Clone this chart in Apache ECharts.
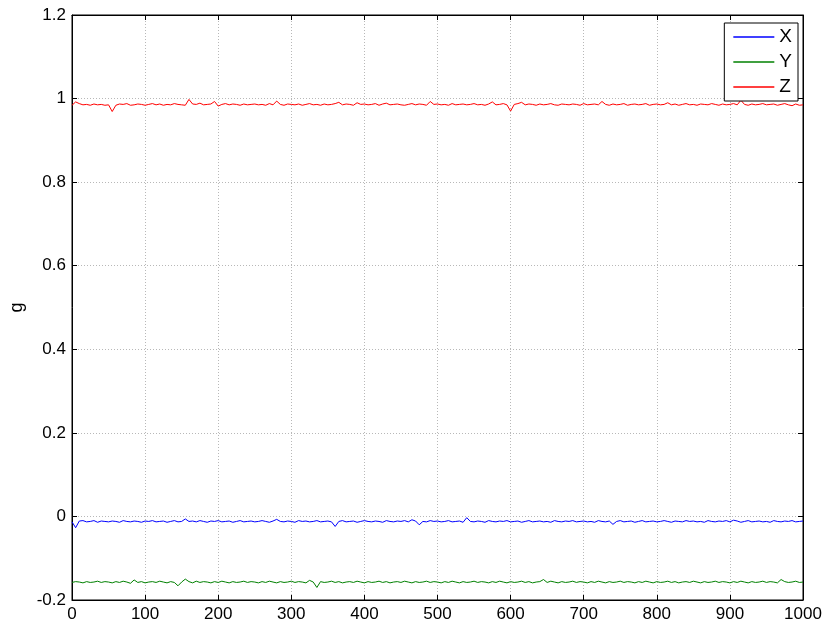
<!DOCTYPE html>
<html>
<head>
<meta charset="utf-8">
<script src="https://cdn.jsdelivr.net/npm/echarts@6/dist/echarts.min.js"></script>
<style>
html,body{margin:0;padding:0;background:#fff;}
#chart{width:830px;height:631px;}
</style>
</head>
<body>
<div id="chart"></div>
<script>
// sample step along x (samples 0..1000 every 5)
const sampleStep = 5;
const seriesNames = ['X', 'Y', 'Z'];
const xTicks = [0,100,200,300,400,500,600,700,800,900,1000];
const yTicks = [-0.2,0,0.2,0.4,0.6,0.8,1,1.2];

const zValues = [
0.984,0.992,0.988,0.985,0.986,0.984,0.987,0.985,0.986,0.984,
0.985,0.969,0.984,0.987,0.986,0.988,0.984,0.985,0.987,0.986,
0.984,0.986,0.988,0.985,0.987,0.984,0.986,0.985,0.988,0.986,
0.985,0.984,0.998,0.987,0.986,0.989,0.985,0.986,0.987,0.993,
0.982,0.986,0.988,0.985,0.987,0.986,0.984,0.987,0.985,0.986,
0.987,0.985,0.986,0.984,0.988,0.985,0.994,0.986,0.984,0.987,
0.986,0.985,0.987,0.984,0.986,0.988,0.985,0.986,0.984,0.987,
0.985,0.986,0.988,0.991,0.985,0.987,0.986,0.984,0.990,0.986,
0.987,0.985,0.986,0.988,0.984,0.987,0.989,0.985,0.986,0.987,
0.985,0.984,0.986,0.988,0.985,0.987,0.986,0.984,0.993,0.986,
0.987,0.985,0.986,0.984,0.988,0.985,0.986,0.987,0.985,0.986,
0.988,0.985,0.986,0.984,0.987,0.992,0.985,0.986,0.988,0.985,
0.970,0.986,0.988,0.991,0.985,0.987,0.986,0.984,0.987,0.985,
0.986,0.988,0.985,0.984,0.987,0.986,0.985,0.987,0.986,0.984,
0.988,0.985,0.986,0.987,0.985,0.993,0.986,0.984,0.987,0.985,
0.986,0.988,0.984,0.986,0.987,0.985,0.986,0.988,0.984,0.986,
0.987,0.985,0.986,0.990,0.985,0.987,0.984,0.986,0.988,0.985,
0.986,0.984,0.987,0.986,0.985,0.988,0.986,0.984,0.987,0.985,
0.986,0.988,0.985,0.996,0.986,0.984,0.987,0.985,0.986,0.988,
0.985,0.986,0.987,0.984,0.986,0.988,0.985,0.983,0.987,0.984,0.985
];

const xValues = [
-0.013,-0.027,-0.011,-0.010,-0.013,-0.012,-0.010,-0.014,-0.011,-0.012,
-0.013,-0.011,-0.012,-0.014,-0.010,-0.012,-0.013,-0.011,-0.012,-0.014,
-0.011,-0.012,-0.010,-0.013,-0.012,-0.011,-0.014,-0.012,-0.010,-0.013,
-0.012,-0.006,-0.012,-0.011,-0.013,-0.010,-0.012,-0.014,-0.011,-0.012,
-0.010,-0.013,-0.012,-0.011,-0.014,-0.012,-0.010,-0.013,-0.012,-0.011,
-0.013,-0.012,-0.010,-0.012,-0.014,-0.011,-0.007,-0.012,-0.013,-0.011,
-0.012,-0.014,-0.010,-0.012,-0.011,-0.013,-0.012,-0.010,-0.013,-0.012,
-0.011,-0.013,-0.024,-0.012,-0.010,-0.013,-0.012,-0.011,-0.014,-0.012,
-0.010,-0.012,-0.013,-0.011,-0.012,-0.014,-0.010,-0.012,-0.013,-0.011,
-0.012,-0.010,-0.013,-0.008,-0.011,-0.020,-0.012,-0.013,-0.010,-0.012,
-0.011,-0.013,-0.012,-0.010,-0.013,-0.012,-0.011,-0.014,-0.003,-0.012,
-0.013,-0.011,-0.012,-0.014,-0.010,-0.012,-0.013,-0.011,-0.012,-0.010,
-0.013,-0.012,-0.011,-0.014,-0.012,-0.010,-0.013,-0.012,-0.011,-0.013,
-0.012,-0.014,-0.010,-0.012,-0.013,-0.011,-0.012,-0.010,-0.013,-0.012,
-0.011,-0.013,-0.012,-0.014,-0.010,-0.012,-0.013,-0.011,-0.019,-0.012,
-0.010,-0.013,-0.012,-0.011,-0.014,-0.012,-0.010,-0.013,-0.012,-0.011,
-0.013,-0.012,-0.010,-0.012,-0.014,-0.011,-0.012,-0.013,-0.010,-0.012,
-0.011,-0.013,-0.012,-0.014,-0.010,-0.012,-0.013,-0.011,-0.012,-0.010,
-0.013,-0.009,-0.011,-0.014,-0.012,-0.010,-0.013,-0.012,-0.011,-0.013,
-0.012,-0.014,-0.010,-0.012,-0.013,-0.011,-0.012,-0.010,-0.013,-0.012,-0.011
];

const yValues = [
-0.158,-0.156,-0.157,-0.159,-0.156,-0.158,-0.157,-0.155,-0.158,-0.156,
-0.157,-0.159,-0.156,-0.158,-0.155,-0.157,-0.160,-0.152,-0.158,-0.156,
-0.159,-0.157,-0.156,-0.158,-0.155,-0.157,-0.159,-0.156,-0.158,-0.166,
-0.157,-0.150,-0.156,-0.159,-0.155,-0.158,-0.156,-0.157,-0.159,-0.156,
-0.158,-0.155,-0.157,-0.159,-0.156,-0.158,-0.157,-0.155,-0.158,-0.156,
-0.157,-0.159,-0.156,-0.158,-0.155,-0.157,-0.159,-0.156,-0.158,-0.157,
-0.155,-0.158,-0.156,-0.157,-0.159,-0.153,-0.157,-0.170,-0.156,-0.158,
-0.157,-0.155,-0.158,-0.156,-0.159,-0.157,-0.156,-0.158,-0.155,-0.157,
-0.159,-0.156,-0.158,-0.157,-0.155,-0.158,-0.156,-0.159,-0.157,-0.156,
-0.158,-0.155,-0.157,-0.159,-0.156,-0.158,-0.157,-0.155,-0.158,-0.156,
-0.157,-0.159,-0.156,-0.158,-0.155,-0.157,-0.159,-0.156,-0.158,-0.157,
-0.155,-0.158,-0.156,-0.157,-0.159,-0.156,-0.158,-0.155,-0.157,-0.159,
-0.156,-0.158,-0.157,-0.155,-0.158,-0.156,-0.159,-0.157,-0.156,-0.151,
-0.158,-0.155,-0.157,-0.159,-0.156,-0.158,-0.157,-0.155,-0.158,-0.156,
-0.157,-0.159,-0.156,-0.158,-0.155,-0.157,-0.159,-0.156,-0.158,-0.157,
-0.155,-0.158,-0.156,-0.157,-0.159,-0.156,-0.158,-0.155,-0.157,-0.159,
-0.156,-0.158,-0.157,-0.155,-0.158,-0.156,-0.159,-0.157,-0.156,-0.158,
-0.155,-0.157,-0.159,-0.156,-0.158,-0.157,-0.155,-0.158,-0.156,-0.157,
-0.159,-0.156,-0.158,-0.155,-0.157,-0.159,-0.156,-0.158,-0.157,-0.155,
-0.158,-0.156,-0.157,-0.159,-0.151,-0.156,-0.158,-0.157,-0.155,-0.158,-0.157
];

const colors = ['#0000ff', '#008000', '#ff0000'];
const FONT = 'Liberation Sans, Arial, sans-serif';

function pairs(vals) { return vals.map((v, i) => [i * sampleStep, v]); }

const chart = echarts.init(document.getElementById('chart'), null, {renderer: 'canvas'});
const gridLine = {show: true, lineStyle: {color: '#b8b8b8', type: [1, 2], width: 1}};
const tick = {show: true, inside: true, length: 5, lineStyle: {color: '#000'}};
const axLine = {show: true, onZero: false, lineStyle: {color: '#000'}};
const option = {
  animation: false,
  backgroundColor: '#ffffff',
  grid: {left: 72, right: 27, top: 15, bottom: 31, containLabel: false, outerBoundsMode: 'none',
    show: true, borderColor: '#000', borderWidth: 1, backgroundColor: 'transparent'},
  legend: {
    data: seriesNames,
    orient: 'vertical',
    right: 32, top: 23,
    icon: 'rect',
    itemWidth: 41, itemHeight: 1.5,
    itemGap: 5,
    backgroundColor: '#fff',
    borderColor: '#000', borderWidth: 1,
    borderRadius: 0,
    padding: [4, 6, 4, 9],
    textStyle: {fontFamily: FONT, fontSize: 19, color: '#000', lineHeight: 20}
  },
  xAxis: [{
    type: 'value', min: 0, max: 1000, interval: 100,
    axisLine: axLine, axisTick: tick,
    axisLabel: {fontFamily: FONT, fontSize: 17, color: '#000', margin: 6, formatter: v => xTicks.includes(v) ? String(v) : ''},
    splitLine: gridLine
  }, {
    type: 'value', position: 'top', min: 0, max: 1000, interval: 100,
    axisLine: axLine, axisTick: tick,
    axisLabel: {show: false}, splitLine: {show: false}
  }],
  yAxis: [{
    type: 'value', min: -0.2, max: 1.2, interval: 0.2,
    name: 'g', nameLocation: 'middle', nameGap: 45,
    nameTextStyle: {fontFamily: FONT, fontSize: 18, color: '#000'},
    axisLine: axLine, axisTick: tick,
    axisLabel: {fontFamily: FONT, fontSize: 17, color: '#000', margin: 6,
      formatter: v => { const r = Math.round(v * 10) / 10; return yTicks.includes(r) ? String(r) : ''; }},
    splitLine: gridLine
  }, {
    type: 'value', position: 'right', min: -0.2, max: 1.2, interval: 0.2,
    axisLine: axLine, axisTick: tick,
    axisLabel: {show: false}, splitLine: {show: false}
  }],
  series: [
    {name: 'X', type: 'line', data: pairs(xValues), symbol: 'none', lineStyle: {width: 1, color: colors[0]}, itemStyle: {color: colors[0]}},
    {name: 'Y', type: 'line', data: pairs(yValues), symbol: 'none', lineStyle: {width: 1, color: colors[1]}, itemStyle: {color: colors[1]}},
    {name: 'Z', type: 'line', data: pairs(zValues), symbol: 'none', lineStyle: {width: 1, color: colors[2]}, itemStyle: {color: colors[2]}}
  ]
};
chart.setOption(option);
</script>
</body>
</html>
